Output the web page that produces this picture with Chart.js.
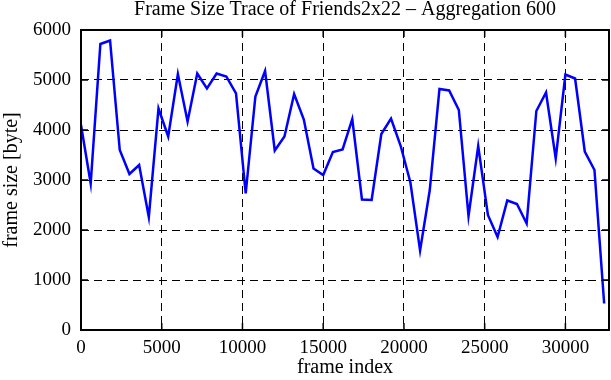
<!DOCTYPE html>
<html><head><meta charset="utf-8">
<script src="https://cdn.jsdelivr.net/npm/chart.js@4/dist/chart.umd.min.js"></script>
<style>html,body{margin:0;padding:0;background:#fff}canvas{display:block}</style>
</head><body>
<div style="width:611px;height:380px"><canvas id="c" width="611" height="380"></canvas></div>
<script>
const frameIndex = [0,600,1200,1800,2400,3000,3600,4200,4800,5400,6000,6600,7200,7800,8400,9000,9600,10200,10800,11400,12000,12600,13200,13800,14400,15000,15600,16200,16800,17400,18000,18600,19200,19800,20400,21000,21600,22200,22800,23400,24000,24600,25200,25800,26400,27000,27600,28200,28800,29400,30000,30600,31200,31800,32400];
const frameSize = [4100,2930,5720,5790,3600,3120,3300,2260,4430,3870,5120,4170,5130,4830,5130,5070,4730,2730,4670,5180,3590,3870,4720,4210,3230,3100,3560,3610,4220,2610,2600,3920,4230,3680,2950,1590,2800,4820,4790,4400,2280,3680,2300,1860,2590,2520,2130,4380,4750,3430,5110,5030,3570,3200,530];
const xTickValues = [0,5000,10000,15000,20000,25000,30000];
const yTickValues = [0,1000,2000,3000,4000,5000,6000];
const xMax = 32700;
const titleText = 'Frame Size Trace of Friends2x22 \u2013 Aggregation 600';
const xTitle = 'frame index';
const yTitle = 'frame size [byte]';

const FONT = 'Liberation Serif';

const framePlugin = {
  id: 'frame',
  afterDraw(chart) {
    const {ctx, chartArea: a, scales} = chart;
    ctx.save();
    ctx.strokeStyle = '#000';
    ctx.lineWidth = 1.5;
    const tl = 7;
    ctx.beginPath();
    xTickValues.forEach(v => {
      const px = scales.x.getPixelForValue(v);
      ctx.moveTo(px, a.bottom); ctx.lineTo(px, a.bottom - tl);
      ctx.moveTo(px, a.top); ctx.lineTo(px, a.top + tl);
    });
    yTickValues.forEach(v => {
      const py = scales.y.getPixelForValue(v);
      ctx.moveTo(a.left, py); ctx.lineTo(a.left + tl, py);
      ctx.moveTo(a.right, py); ctx.lineTo(a.right - tl, py);
    });
    ctx.stroke();
    ctx.lineWidth = 2;
    ctx.strokeRect(a.left, a.top, a.right - a.left, a.bottom - a.top);
    ctx.restore();
  }
};

new Chart(document.getElementById('c'), {
  type: 'line',
  data: {
    datasets: [{
      data: frameIndex.map((x, i) => ({x: x, y: frameSize[i]})),
      borderColor: '#0000ff',
      borderWidth: 2.5,
      pointRadius: 0,
      tension: 0,
      fill: false
    }]
  },
  options: {
    responsive: false,
    animation: false,
    devicePixelRatio: 1,
    layout: {padding: {left: 0, right: 2, top: 0, bottom: 0}},
    plugins: {
      legend: {display: false},
      tooltip: {enabled: false},
      title: {
        display: true, text: titleText, color: '#000', fullSize: false,
        font: {family: FONT, size: 20, weight: 'normal', lineHeight: 1},
        padding: {top: 0, bottom: 10}
      }
    },
    scales: {
      x: {
        type: 'linear', min: 0, max: xMax,
        afterFit(s) { s.height = 50; },
        afterBuildTicks(s) { s.ticks = xTickValues.map(v => ({value: v})); },
        ticks: {
          includeBounds: false, autoSkip: false, maxRotation: 0, padding: 7,
          color: '#000', font: {family: FONT, size: 19},
          callback: v => String(v)
        },
        grid: {color: '#000', lineWidth: 1, drawTicks: false},
        border: {display: false, dash: [8, 5]},
        title: {
          display: true, text: xTitle, color: '#000',
          font: {family: FONT, size: 20, lineHeight: 1.2},
          padding: {top: 0, bottom: 0}
        }
      },
      y: {
        type: 'linear', min: 0, max: 6000,
        afterFit(s) { s.width = 81; },
        afterBuildTicks(s) { s.ticks = yTickValues.map(v => ({value: v})); },
        ticks: {
          includeBounds: false, autoSkip: false, padding: 10,
          color: '#000', font: {family: FONT, size: 19},
          callback: v => String(v)
        },
        grid: {color: '#000', lineWidth: 1, drawTicks: false},
        border: {display: false, dash: [8, 5]},
        title: {
          display: true, text: yTitle, color: '#000',
          font: {family: FONT, size: 20, lineHeight: 1.2},
          padding: {top: 0, bottom: 0}
        }
      }
    }
  },
  plugins: [framePlugin]
});
</script>
</body></html>
